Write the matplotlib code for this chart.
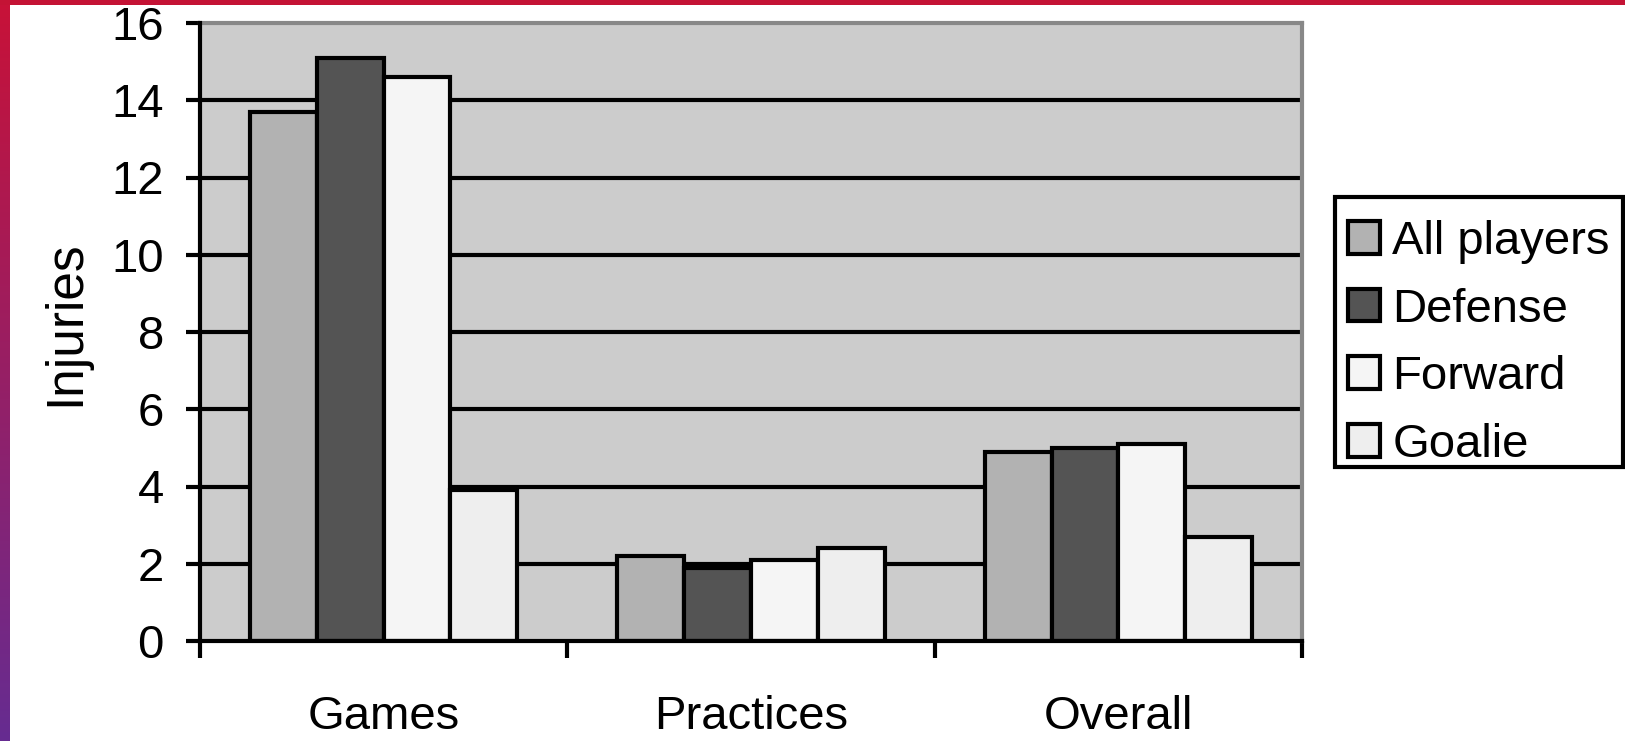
import numpy as np
import matplotlib
matplotlib.use("Agg")
import matplotlib.pyplot as plt
from matplotlib.patches import Rectangle

# Injury rates by setting and playing position
categories = ["Games", "Practices", "Overall"]
series_names = ["All players", "Defense", "Forward", "Goalie"]
all_players = [13.7, 2.2, 4.9]
defense = [15.1, 1.9, 5.0]
forward = [14.6, 2.1, 5.1]
goalie = [3.9, 2.4, 2.7]
y_ticks = [0, 2, 4, 6, 8, 10, 12, 14, 16]
y_label = "Injuries"

series_values = [all_players, defense, forward, goalie]
series_colors = ["#B2B2B2", "#545454", "#F5F5F5", "#EEEEEE"]

plt.rcParams["font.family"] = ["Liberation Sans", "DejaVu Sans"]

W, H = 1625, 741
fig = plt.figure(figsize=(W / 100, H / 100), dpi=100)
fig.patch.set_facecolor("white")

# plot area
ax = fig.add_axes([200 / W, 1 - 641 / H, 1102 / W, 618 / H])
ax.set_facecolor("#CCCCCC")

n = len(series_values)
group_w = 4 / 5.5
bar_w = group_w / n
x = np.arange(len(categories))

lw = 3.0
for yv in y_ticks[1:-1]:
    ax.axhline(yv, color="black", lw=lw, zorder=1)

for i, (vals, col, name) in enumerate(zip(series_values, series_colors, series_names)):
    ax.bar(x + (i - (n - 1) / 2) * bar_w, vals, width=bar_w, color=col,
           edgecolor="black", linewidth=lw, label=name, zorder=3)

ax.set_xlim(-0.5, len(categories) - 0.5)
ax.set_ylim(0, 16)

# category boundaries carry tick marks, centres carry the labels
ax.set_xticks(np.arange(len(categories) + 1) - 0.5)
ax.set_xticklabels([])
ax.set_xticks(x, minor=True)
ax.set_xticklabels(categories, minor=True)
ax.tick_params(axis="x", which="major", direction="out", length=12.5, width=lw, color="black")
ax.tick_params(axis="x", which="minor", length=0, pad=39, labelsize=34)

ax.set_yticks(y_ticks)
ax.set_yticklabels([str(v) for v in y_ticks])
ax.tick_params(axis="y", direction="out", length=10, width=lw, pad=16, labelsize=34)

ax.set_ylabel(y_label, fontsize=37)
ax.yaxis.set_label_coords(-0.1, 0.515)

for side in ("left", "bottom"):
    ax.spines[side].set_color("black")
    ax.spines[side].set_linewidth(lw)
    ax.spines[side].set_zorder(5)
for side in ("top", "right"):
    ax.spines[side].set_color("#888888")
    ax.spines[side].set_linewidth(3)

# legend with a separately drawn frame
fig.patches.append(Rectangle((1335 / W, 1 - 467 / H), 288 / W, 270 / H,
                             transform=fig.transFigure, facecolor="white",
                             edgecolor="black", linewidth=3, zorder=0))
leg = fig.legend(loc="upper left", bbox_to_anchor=(1348 / W, 1 - 220 / H),
                 bbox_transform=fig.transFigure, frameon=False, fontsize=34,
                 handlelength=0.68, handleheight=0.68, handletextpad=0.26,
                 labelspacing=0.5, borderpad=0, borderaxespad=0)
for h in leg.legend_handles:
    h.set_linewidth(3)

# decorative page border: red top strip and red-to-purple left strip
fig.patches.append(Rectangle((0, 1 - 5 / H), 1, 5 / H, transform=fig.transFigure,
                             facecolor="#C41335", edgecolor="none", zorder=10))
strip = fig.add_axes([0, 0, 10 / W, 1])
strip.set_axis_off()
top_c = np.array([200, 18, 56]) / 255
bot_c = np.array([102, 44, 145]) / 255
t = np.linspace(0, 1, 256)[:, None]
grad = (top_c[None, :] * (1 - t) + bot_c[None, :] * t)[:, None, :]
strip.imshow(grad, aspect="auto", extent=[0, 1, 0, 1])

fig.savefig("out.png", dpi=100)
